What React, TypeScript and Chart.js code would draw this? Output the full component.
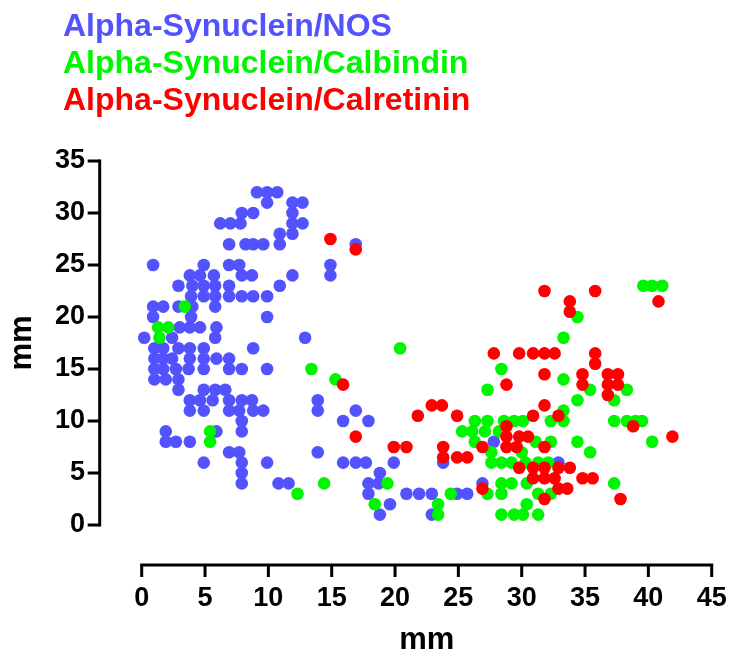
import { useEffect, useRef } from "react";
import { Chart, registerables } from "chart.js";

Chart.register(...registerables);

const seriesNames = ["Alpha-Synuclein/NOS", "Alpha-Synuclein/Calbindin", "Alpha-Synuclein/Calretinin"];
const seriesColors = ["#5252FF", "#00F500", "#FF0000"];

const axisTitleX = "mm";
const axisTitleY = "mm";
const xRange = [0, 45];
const yRange = [0, 35];
const tickStep = 5;

// [x, y] pairs
const nosPoints: [number, number][] = [
  [9.1, 32], [9.9, 32], [10.7, 32],
  [9.9, 31], [11.9, 31], [12.7, 31],
  [7.9, 30], [8.8, 30], [11.9, 30],
  [6.2, 29], [7.0, 29], [7.8, 29], [11.9, 29], [12.7, 29],
  [10.9, 28], [11.9, 28],
  [6.9, 27], [8.2, 27], [8.8, 27], [9.6, 27], [10.9, 27], [16.9, 27],
  [0.9, 25], [4.9, 25], [6.9, 25], [7.7, 25], [14.9, 25],
  [3.8, 24], [4.6, 24], [5.7, 24], [7.9, 24], [8.7, 24], [11.9, 24], [14.9, 24],
  [2.9, 23], [4.0, 23], [4.9, 23], [5.8, 23], [6.9, 23], [10.9, 23],
  [3.9, 22], [4.9, 22], [5.8, 22], [6.9, 22], [7.9, 22], [8.8, 22], [9.9, 22],
  [0.9, 21], [1.7, 21], [2.9, 21], [4.0, 21], [5.8, 21],
  [0.9, 20], [3.9, 20], [9.9, 20],
  [3.0, 19], [3.8, 19], [4.6, 19], [5.9, 19],
  [0.2, 18], [2.4, 18], [5.8, 18], [12.9, 18],
  [1.0, 17], [1.7, 17], [2.9, 17], [3.8, 17], [4.9, 17], [8.8, 17],
  [1.0, 16], [1.7, 16], [2.4, 16], [3.8, 16], [4.9, 16], [5.9, 16], [6.9, 16],
  [1.0, 15], [1.7, 15], [2.7, 15], [3.7, 15], [4.9, 15], [6.9, 15], [7.9, 15], [9.9, 15],
  [1.0, 14], [1.9, 14], [2.9, 14],
  [2.9, 13], [4.9, 13], [5.8, 13], [6.6, 13],
  [3.8, 12], [4.6, 12], [5.6, 12], [6.9, 12], [7.9, 12], [8.7, 12], [13.9, 12],
  [3.8, 11], [4.9, 11], [6.9, 11], [7.7, 11], [8.8, 11], [9.6, 11], [13.9, 11], [16.9, 11],
  [7.9, 10], [15.9, 10], [17.9, 10],
  [1.9, 9], [5.9, 9], [7.9, 9],
  [1.9, 8], [2.7, 8], [3.8, 8], [27.8, 8],
  [6.9, 7], [7.7, 7], [13.9, 7],
  [4.9, 6], [7.9, 6], [9.9, 6], [15.9, 6], [16.9, 6], [17.7, 6], [19.9, 6], [23.8, 6], [32.9, 6],
  [7.9, 5], [18.8, 5],
  [7.9, 4], [10.8, 4], [11.6, 4], [17.9, 4], [18.7, 4], [26.9, 4],
  [17.9, 3], [20.9, 3], [21.9, 3], [22.9, 3], [24.9, 3], [25.7, 3],
  [19.6, 2],
  [18.8, 1], [22.9, 1],
];

const calbindinPoints: [number, number][] = [
  [39.6, 23], [40.3, 23], [41.1, 23],
  [3.4, 21],
  [34.4, 20],
  [1.3, 19], [2.1, 19],
  [1.4, 18], [33.3, 18],
  [20.4, 17],
  [13.4, 15], [28.4, 15],
  [15.3, 14], [33.3, 14],
  [27.3, 13], [35.4, 13], [38.3, 13],
  [34.4, 12], [37.3, 12],
  [33.3, 11],
  [26.3, 10], [27.3, 10], [28.6, 10], [29.4, 10], [30.1, 10], [32.3, 10], [33.3, 10],
  [37.3, 10], [38.3, 10], [39.0, 10], [39.5, 10],
  [5.4, 9], [25.3, 9], [26.1, 9], [27.1, 9], [28.2, 9],
  [5.4, 8], [26.3, 8], [31.1, 8], [32.3, 8], [34.4, 8], [40.3, 8],
  [27.6, 7], [30.0, 7], [35.4, 7],
  [27.6, 6], [28.4, 6], [29.2, 6], [30.3, 6], [31.3, 6], [32.1, 6],
  [14.4, 4], [19.4, 4], [28.4, 4], [29.2, 4], [30.4, 4], [37.3, 4],
  [12.3, 3], [24.4, 3], [27.3, 3], [28.4, 3], [31.3, 3], [32.3, 3],
  [18.4, 2], [23.4, 2], [30.4, 2],
  [23.4, 1], [28.4, 1], [29.4, 1], [30.1, 1], [31.3, 1],
];

const calretininPoints: [number, number][] = [
  [14.9, 27.5],
  [16.9, 26.5],
  [31.8, 22.5], [35.8, 22.5],
  [33.8, 21.5], [40.8, 21.5],
  [33.8, 20.5],
  [27.8, 16.5], [29.8, 16.5], [30.9, 16.5], [31.8, 16.5], [32.6, 16.5], [35.8, 16.5],
  [35.8, 15.5],
  [31.8, 14.5], [34.8, 14.5], [36.8, 14.5], [37.6, 14.5],
  [15.9, 13.5], [28.8, 13.5], [34.8, 13.5], [36.8, 13.5], [37.6, 13.5],
  [36.8, 12.5],
  [22.9, 11.5], [23.7, 11.5], [31.8, 11.5],
  [21.8, 10.5], [24.9, 10.5], [30.9, 10.5], [32.9, 10.5],
  [28.8, 9.5], [38.8, 9.5],
  [16.9, 8.5], [28.8, 8.5], [29.8, 8.5], [30.5, 8.5], [41.9, 8.5],
  [19.9, 7.5], [20.9, 7.5], [23.8, 7.5], [26.9, 7.5], [28.8, 7.5], [29.6, 7.5], [31.8, 7.5],
  [23.8, 6.5], [24.9, 6.5], [25.7, 6.5],
  [29.8, 5.5], [30.9, 5.5], [31.8, 5.5], [32.9, 5.5], [33.8, 5.5],
  [30.9, 4.5], [31.8, 4.5], [32.6, 4.5], [34.8, 4.5], [35.6, 4.5],
  [26.9, 3.5], [32.9, 3.5], [33.6, 3.5],
  [31.8, 2.5], [37.8, 2.5],
];

const FONT = "'Liberation Sans', Arial, Helvetica, sans-serif";

const prismDecor = {
  id: "prismDecor",
  afterDraw(chart: any) {
    const { ctx, chartArea } = chart;
    const xs = chart.scales.x;
    const ys = chart.scales.y;
    ctx.save();
    ctx.strokeStyle = "#000";
    ctx.lineWidth = 3;
    ctx.lineCap = "butt";

    const yAxisX = chartArea.left - 42;
    const xAxisY = chartArea.bottom + 40;
    const tickLen = 12;

    // y axis line + ticks
    ctx.beginPath();
    ctx.moveTo(yAxisX, ys.getPixelForValue(ys.min) + 1.5);
    ctx.lineTo(yAxisX, ys.getPixelForValue(ys.max) - 1.5);
    ctx.stroke();
    ctx.beginPath();
    ys.ticks.forEach((t: any) => {
      const p = ys.getPixelForValue(t.value);
      ctx.moveTo(yAxisX - tickLen, p);
      ctx.lineTo(yAxisX, p);
    });
    ctx.stroke();

    // x axis line + ticks
    ctx.beginPath();
    ctx.moveTo(xs.getPixelForValue(xs.min) - 1.5, xAxisY);
    ctx.lineTo(xs.getPixelForValue(xs.max) + 1.5, xAxisY);
    ctx.stroke();
    ctx.beginPath();
    xs.ticks.forEach((t: any) => {
      const p = xs.getPixelForValue(t.value);
      ctx.moveTo(p, xAxisY);
      ctx.lineTo(p, xAxisY + tickLen);
    });
    ctx.stroke();

    // legend as coloured text lines
    ctx.font = `bold 32px ${FONT}`;
    ctx.textAlign = "left";
    ctx.textBaseline = "alphabetic";
    seriesNames.forEach((name, i) => {
      ctx.fillStyle = seriesColors[i];
      ctx.fillText(name, 63, 36 + i * 37);
    });
    ctx.restore();
  },
};

export default function App() {
  const canvasRef = useRef<HTMLCanvasElement | null>(null);

  useEffect(() => {
    if (!canvasRef.current) return;
    const allSeries = [nosPoints, calbindinPoints, calretininPoints];
    const chart = new Chart(canvasRef.current, {
      type: "scatter",
      data: {
        datasets: allSeries.map((pts, i) => ({
          label: seriesNames[i],
          data: pts.map(([x, y]) => ({ x, y })),
          backgroundColor: seriesColors[i],
          borderColor: seriesColors[i],
          borderWidth: 0,
          pointRadius: 6.3,
          pointHoverRadius: 6.3,
          clip: false as any,
          order: 3 - i,
        })),
      },
      options: {
        responsive: false,
        animation: false,
        events: [],
        layout: { padding: { left: 0, top: 161, right: 38.3, bottom: 8 } },
        plugins: {
          legend: { display: false },
          tooltip: { enabled: false },
          title: { display: false },
        },
        scales: {
          x: {
            type: "linear",
            min: xRange[0],
            max: xRange[1],
            grid: { display: false, drawTicks: true, tickLength: 54 },
            border: { display: false },
            ticks: {
              stepSize: tickStep,
              padding: 3,
              color: "#000",
              font: { family: FONT, size: 27, weight: "bold" },
              maxRotation: 0,
            },
            title: {
              display: true,
              text: axisTitleX,
              color: "#000",
              font: { family: FONT, size: 31, weight: "bold" },
              padding: 0,
            },
            afterFit: (s: any) => {
              s.height = 134;
            },
          },
          y: {
            type: "linear",
            min: yRange[0],
            max: yRange[1],
            grid: { display: false, drawTicks: true, tickLength: 53.7 },
            border: { display: false },
            ticks: {
              stepSize: tickStep,
              padding: 3,
              color: "#000",
              font: { family: FONT, size: 27, weight: "bold" },
            },
            title: {
              display: true,
              text: axisTitleY,
              color: "#000",
              font: { family: FONT, size: 31, weight: "bold" },
              padding: { top: 4, bottom: 0 },
            },
            afterFit: (s: any) => {
              s.width = 141.7;
            },
          },
        },
      },
      plugins: [prismDecor],
    });
    return () => chart.destroy();
  }, []);

  return (
    <div style={{ position: "absolute", left: 0, top: 0, width: 750, height: 667, background: "#fff" }}>
      <canvas ref={canvasRef} width={750} height={667} style={{ display: "block", width: 750, height: 667 }} />
    </div>
  );
}
